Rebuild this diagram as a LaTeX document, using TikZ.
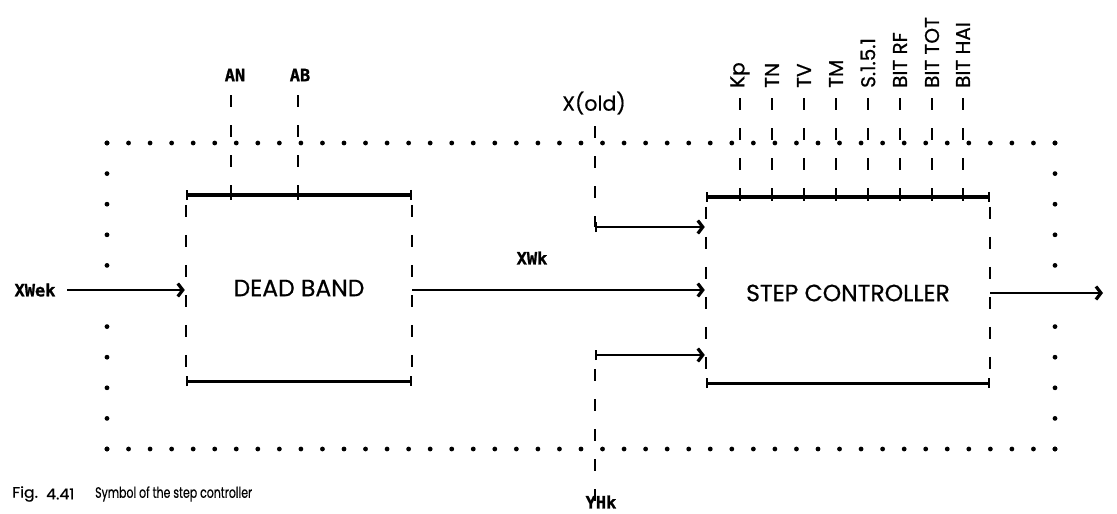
\documentclass[tikz,border=0pt]{standalone}
\usepackage{fontspec}
\setmainfont{Poppins}[FakeBold=0.6]
\newfontfamily\monof{DejaVu Sans Mono}[FakeBold=1.2]
\usetikzlibrary{arrows.meta,calc}
\begin{document}
\begin{tikzpicture}[x=1pt,y=-1pt,
  dotrow/.style={line width=4.8pt,line cap=round,dash pattern=on 0pt off 21.545pt},
  dotcol/.style={line width=4.8pt,line cap=round,dash pattern=on 0pt off 30.6pt},
  sig/.style={line width=2.4pt,dash pattern=on 12pt off 18pt},
  edgeline/.style={line width=3.4pt,{Bar[width=10pt,line width=1.8pt]}-{Bar[width=10pt,line width=1.8pt]}},
  arr/.style={line width=2.8pt,-{Straight Barb[length=5pt,width=13pt,line width=3.2pt]},shorten >=1pt},
  tarr/.style={line width=2.8pt,{Bar[width=10pt,line width=1.8pt]}-{Straight Barb[length=5pt,width=13pt,line width=3.2pt]},shorten >=1pt},
  tick/.style={line width=1.8pt},
  boxn/.style={inner sep=0pt,draw=none},
  big/.style={font=\fontsize{23.5}{25}\selectfont},
  par/.style={font=\fontsize{20}{21}\selectfont,rotate=90,anchor=west,inner sep=0pt},
  mlab/.style={font=\monof\bfseries\fontsize{17}{18}\selectfont,inner sep=0pt},
  capt/.style={anchor=west,inner sep=0pt,font=\fontsize{15}{16}\selectfont}]
\useasboundingbox (0,0) rectangle (1117,514);

% dotted frame
\coordinate (fnw) at (107,143);
\coordinate (fne) at (1055,143);
\coordinate (fsw) at (107,449);
\coordinate (fse) at (1055,449);
\draw[dotrow] (fnw) -- (fne);
\draw[dotrow] (fsw) -- (fse);
\draw[dotcol] (fnw) -- (107,266);
\draw[dotcol] (107,326.6) -- (fsw);
\draw[dotcol] (fne) -- (1055,266);
\draw[dotcol] (1055,326.6) -- (fse);

% boxes
\node[boxn,minimum width=226pt,minimum height=186pt] (db) at (299,288) {};
\node[boxn,minimum width=284pt,minimum height=186pt] (sc) at (848,290) {};
\node[big] at (db.center) {DEAD BAND};
\node[big] at ([yshift=-3pt]sc.center) {STEP CONTROLLER};

\draw[edgeline] (db.north west) -- (db.north east);
\draw[edgeline] (db.south west) -- (db.south east);
\draw[sig] (db.north west) ++(0,10) -- (db.south west);
\draw[sig] (db.north east) ++(0,10) -- (db.south east);
\draw[edgeline] (sc.north west) -- (sc.north east);
\draw[edgeline] (sc.south west) -- (sc.south east);
\draw[sig] (sc.north west) ++(0,10) -- (sc.south west);
\draw[sig] (sc.north east) ++(0,10) -- (sc.south east);

% dead band parameters
\node[mlab] (an) at (235,75) {AN};
\node[mlab] (ab) at (300,75) {AB};
\foreach \p/\x in {an/231,ab/298}{
  \draw[sig] (\x,95) -- (\x,195);
  \draw[tick] (\x,190.5) -- ++(0,9);
}

% step controller parameters
\foreach \n/\x/\t in {p1/740/Kp,p2/772/TN,p3/804/TV,p4/836/TM,p5/868/S.1.5.1,p6/900/BIT RF,p7/932/BIT TOT,p8/963/BIT HAI}{
  \node[par] (\n) at (\x,88) {\t};
  \draw[sig] ([yshift=-10pt]\n.west) -- (\n.west |- sc.north);
  \draw[tick] ($(\n.west |- sc.north)+(0,-4.5)$) -- ++(0,9);
}

% input
\node[mlab] (xwek) at (35,290) {XWek};
\draw[arr] (67,290) coordinate (xs) -- (xs -| db.west);

% XWk
\node[mlab] (xwk) at (532,258) {XWk};
\draw[arr] (db.east |- 0,290) -- (sc.west |- 0,290);

% X(old)
\node[font=\fontsize{20.5}{22}\selectfont,inner sep=0pt] (xold) at (594,103) {X(old)};
\coordinate (xc) at (595,227);
\draw[sig] (595,126) -- (xc);
\draw[tarr] (xc) -- (xc -| sc.west);

% YHk
\coordinate (yc) at (595,355);
\node[mlab] (yhk) at (601,502) {YHk};
\draw[tarr] (yc) -- (yc -| sc.west);
\draw[sig] (yc) ++(0,14) -- ([yshift=-6pt]yc |- yhk.north);

% output
\coordinate (out) at (1103,293);
\draw[line width=2.8pt,-{Straight Barb[length=5pt,width=13pt,line width=3.2pt]}] (sc.east |- out) -- (out);

% caption
\node[capt] (fig) at (12,494) {\scalebox{1.05}[1]{Fig.}};
\node[capt] (fignum) at (46,494) {\scalebox{1.05}[1]{4.41}};
\node[capt] (cap) at (95,494) {\scalebox{0.73}[1]{Symbol of the step controller}};
\end{tikzpicture}
\end{document}
